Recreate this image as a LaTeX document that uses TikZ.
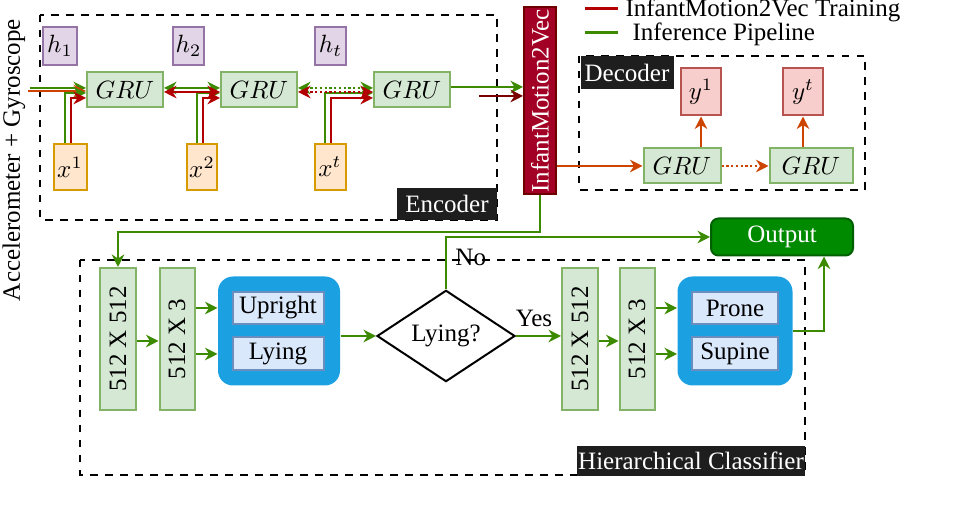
\documentclass[tikz,border=0pt]{standalone}
\usepackage{fontspec}
\setmainfont{Liberation Serif}
\usetikzlibrary{shapes.geometric,arrows.meta}
\definecolor{gr}{HTML}{3B8A00}\definecolor{rd}{HTML}{B20000}\definecolor{drd}{HTML}{7A0000}\definecolor{org}{HTML}{CC4400}
\begin{document}
\begin{tikzpicture}[x=0.4pt,y=-0.4pt,
 box/.style={draw,line width=0.8pt,inner sep=0pt},
 gru/.style={box,draw=green!50!gray,fill=green!12,draw={rgb,255:red,130;green,179;blue,102},fill={rgb,255:red,213;green,232;blue,212}},
 hb/.style={box,draw={rgb,255:red,150;green,115;blue,166},fill={rgb,255:red,225;green,213;blue,231}},
 xb/.style={box,draw={rgb,255:red,215;green,155;blue,0},fill={rgb,255:red,255;green,230;blue,204}},
 yb/.style={box,draw={rgb,255:red,184;green,84;blue,80},fill={rgb,255:red,248;green,206;blue,204}},
 cb/.style={box,draw={rgb,255:red,108;green,142;blue,191},fill={rgb,255:red,218;green,232;blue,252}},
 dbox/.style={draw,dashed,line width=0.8pt},
 lab/.style={fill={rgb,255:red,30;green,30;blue,30},text=white,inner sep=0pt},
 ga/.style={draw=gr,line width=0.9pt,-{Stealth[length=5pt,width=5pt]}},
 ra/.style={draw=rd,line width=0.9pt,-{Stealth[length=5pt,width=5pt]}},
 gl/.style={draw=gr,line width=0.9pt}]
\useasboundingbox (0,0) rectangle (960,510);
% encoder
\draw[dbox] (40,15) rectangle (497,220);
\node[lab,minimum width=100*0.4pt,minimum height=32*0.4pt] (enc) at (447,204) {Encoder};
\foreach \n/\a/\b in {h1/43/77,h2/173/204,ht/315/346}{\node[hb,minimum width={(\b-\a)*0.4pt},minimum height=38*0.4pt] (\n) at ({(\a+\b)/2},46) {};}
\node at (h1) {$h_1$};\node at (h2) {$h_2$};\node at (ht) {$h_t$};
\foreach \n/\a/\b/\t in {g1/87/163/,g2/221/287/,g3/383/440/}{}
\node[gru,minimum width=76*0.4pt,minimum height=35*0.4pt] (g1) at (125,90) {$GRU$};
\node[gru,minimum width=76*0.4pt,minimum height=35*0.4pt] (g2) at (259,90) {$GRU$};
\node[gru,minimum width=76*0.4pt,minimum height=35*0.4pt] (g3) at (412,90) {$GRU$};
\node[xb,minimum width=33*0.4pt,minimum height=46*0.4pt] (x1) at (70,167) {$x^1$};
\node[xb,minimum width=30*0.4pt,minimum height=46*0.4pt] (x2) at (202,167) {$x^2$};
\node[xb,minimum width=31*0.4pt,minimum height=46*0.4pt] (xt) at (330,167) {$x^t$};
% inputs
\coordinate (in) at (30,88);
\draw[ga] (in) -- (g1.west|-in);
\draw[draw=org,line width=0.9pt,-{Stealth[length=5pt,width=5pt]}] (28,91) -- (g1.west|-0,91);
\foreach \x/\g in {x1/g1,x2/g2,xt/g3}{
 \draw[ga] ([xshift=-5*0.4pt]\x.north) |- ([yshift=-3*0.4pt]\g.west);
 \draw[ra] ([xshift=1*0.4pt]\x.north) |- ([yshift=-8*0.4pt]\g.west);}
\draw[ga,{Stealth[length=5pt,width=5pt]}-{Stealth[length=5pt,width=5pt]}] ([yshift=2*0.4pt]g1.east) -- ([yshift=2*0.4pt]g2.west);
\draw[ra,{Stealth[length=5pt,width=5pt]}-{Stealth[length=5pt,width=5pt]}] ([yshift=-2*0.4pt]g1.east) -- ([yshift=-2*0.4pt]g2.west);
\draw[ga,densely dotted,{Stealth[length=5pt,width=5pt]}-{Stealth[length=5pt,width=5pt]}] ([yshift=2*0.4pt]g2.east) -- ([yshift=2*0.4pt]g3.west);
\draw[ra,densely dotted,{Stealth[length=5pt,width=5pt]}-{Stealth[length=5pt,width=5pt]}] ([yshift=-2*0.4pt]g2.east) -- ([yshift=-2*0.4pt]g3.west);
\node[box,draw={rgb,255:red,111;green,0;blue,0},fill={rgb,255:red,162;green,0;blue,37},minimum width=32*0.4pt,minimum height=187*0.4pt] (im) at (540,101) {};
\node[text=white,rotate=90] at (im) {InfantMotion2Vec};
\draw[ga] ([yshift=3*0.4pt]g3.east) -- (im.west|-0,87);
\draw[draw=drd,line width=0.9pt,-{Stealth[length=5pt,width=5pt]}] (479,96) -- (im.west|-0,96);
\node[rotate=90] (acc) at (14,160) {Accelerometer + Gyroscope};
% legend
\coordinate (l1a) at (585,9);\coordinate (l1b) at (618,9);
\draw[rd,line width=1.2pt] (l1a) -- (l1b);
\node[anchor=west,inner sep=0pt] (lt1) at (625,10) {InfantMotion2Vec Training};
\coordinate (l2a) at (585,33);\coordinate (l2b) at (618,33);
\draw[gr,line width=1.2pt] (l2a) -- (l2b);
\node[anchor=west,inner sep=0pt] (lt2) at (632,34) {Inference Pipeline};
% decoder
\draw[dbox] (579,56) rectangle (865,190);
\node[lab,minimum width=93*0.4pt,minimum height=33*0.4pt] (dec) at (627,73) {Decoder};
\node[yb,minimum width=40*0.4pt,minimum height=47*0.4pt] (y1) at (701,92) {$y^1$};
\node[yb,minimum width=40*0.4pt,minimum height=47*0.4pt] (yt) at (803,92) {$y^t$};
\node[gru,minimum width=77*0.4pt,minimum height=35*0.4pt] (d1) at (682,166) {$GRU$};
\node[gru,minimum width=83*0.4pt,minimum height=35*0.4pt] (d2) at (811,166) {$GRU$};
\draw[draw=org,line width=0.9pt,-{Stealth[length=5pt,width=5pt]}] (im.east|-d1) -- (d1);
\draw[draw=org,line width=0.9pt,densely dotted,-{Stealth[length=5pt,width=5pt]}] (d1) -- (d2);
\draw[draw=org,line width=0.9pt,-{Stealth[length=5pt,width=5pt]}] (d1.north-|y1) -- (y1);
\draw[draw=org,line width=0.9pt,-{Stealth[length=5pt,width=5pt]}] (d2.north-|yt) -- (yt);
% output
\node[box,rounded corners=3pt,draw={rgb,255:red,0;green,95;blue,0},fill={rgb,255:red,0;green,138;blue,0},text=white,minimum width=142*0.4pt,minimum height=37*0.4pt] (out) at (782,237) {Output};
% classifier
\draw[dbox] (80,260) rectangle (805,475);
\node[lab,minimum width=228*0.4pt,minimum height=30*0.4pt] (hc) at (691,461) {Hierarchical Classifier};
\tikzset{col/.style={gru,minimum width=36*0.4pt,minimum height=142*0.4pt},blu/.style={fill={rgb,255:red,27;green,161;blue,226},rounded corners=6pt,minimum width=122*0.4pt,minimum height=109*0.4pt,inner sep=0pt},
 cls/.style={cb,minimum width=91*0.4pt,minimum height=32*0.4pt}}
\node[col] (c1) at (118,339) {}; \node[rotate=90] at (c1) {512 X 512};
\node[col,minimum width=35*0.4pt] (c2) at (177,339) {}; \node[rotate=90] at (c2) {512 X 3};
\node[blu] (b1) at (279,331) {};
\node[cls] (up) at (278,308) {Upright};
\node[cls,minimum height=33*0.4pt] (ly) at (278,354) {Lying};
\node[diamond,draw,line width=0.8pt,fill=white,minimum width=138*0.4pt,minimum height=80*0.4pt,inner sep=0pt] (dm) at (446,336) {Lying?};
\node[col] (c3) at (580,339) {}; \node[rotate=90] at (c3) {512 X 512};
\node[col,minimum width=35*0.4pt] (c4) at (637,339) {}; \node[rotate=90] at (c4) {512 X 3};
\node[blu,minimum width=115*0.4pt] (b2) at (735,331) {};
\node[cls,minimum width=86*0.4pt] (pr) at (735,308) {Prone};
\node[cls,minimum width=86*0.4pt,minimum height=33*0.4pt] (su) at (735,354) {Supine};
% classifier connectors
\draw[ga] (im.south) |- (118,232) -- (c1.north);
\draw[ga] (c1.east|-0,341) -- (c2.west|-0,341);
\draw[ga] (c2.east|-up) -- (b1.west|-up);
\draw[ga] (c2.east|-ly) -- (b1.west|-ly);
\draw[ga] (b1.east|-0,336) -- (dm.west);
\draw[ga] (dm.east) -- node[above,text=black,pos=0.4] {Yes} (c3.west|-dm);
\draw[ga] (c3.east|-0,341) -- (c4.west|-0,341);
\draw[ga] (c4.east|-pr) -- (b2.west|-pr);
\draw[ga] (c4.east|-su) -- (b2.west|-su);
\draw[ga] (dm.north) -- node[right,text=black,pos=0.6] {No} (446,237) -- (out.west);
\draw[ga] (b2.east|-0,331) -| (824,0|-out.south);
\end{tikzpicture}
\end{document}
